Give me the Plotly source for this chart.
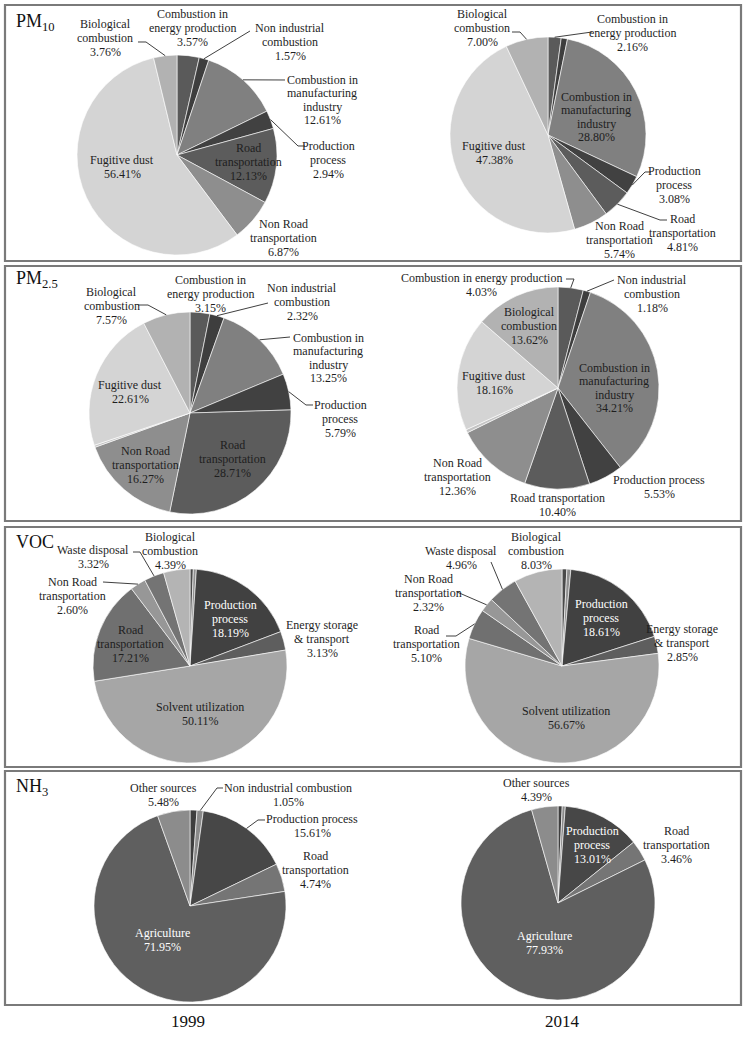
import math
import plotly.graph_objects as go

W, H = 748, 1040

# ---------------- data (percent shares, clockwise from 12 o'clock) ----------------
pm10_cats = ["Combustion in energy production", "Non industrial combustion",
             "Combustion in manufacturing industry", "Production process",
             "Road transportation", "Non Road transportation",
             "Fugitive dust", "Biological combustion"]
pm10_1999 = [3.57, 1.57, 12.61, 2.94, 12.13, 6.87, 56.41, 3.76]
pm10_2014 = [2.16, 1.03, 28.80, 3.08, 4.81, 5.74, 47.38, 7.00]

pm25_cats = ["Combustion in energy production", "Non industrial combustion",
             "Combustion in manufacturing industry", "Production process",
             "Road transportation", "Non Road transportation", "Other sources",
             "Fugitive dust", "Biological combustion"]
pm25_1999 = [3.15, 2.32, 13.25, 5.79, 28.71, 16.27, 0.33, 22.61, 7.57]
pm25_2014 = [4.03, 1.18, 34.21, 5.53, 10.40, 12.36, 0.51, 18.16, 13.62]

voc_cats = ["Combustion", "Other sources", "Production process",
            "Energy storage & transport", "Solvent utilization",
            "Road transportation", "Non Road transportation",
            "Waste disposal", "Biological combustion"]
voc_1999 = [0.55, 0.50, 18.19, 3.13, 50.11, 17.21, 2.60, 3.32, 4.39]
voc_2014 = [0.80, 0.66, 18.61, 2.85, 56.67, 5.10, 2.32, 4.96, 8.03]

nh3_cats = ["Other combustion", "Non industrial combustion", "Production process",
            "Road transportation", "Agriculture", "Other sources"]
nh3_1999 = [1.17, 1.05, 15.61, 4.74, 71.95, 5.48]
nh3_2014 = [0.70, 0.51, 13.01, 3.46, 77.93, 4.39]

years = ["1999", "2014"]
panel_titles = ["PM<sub>10</sub>", "PM<sub>2.5</sub>", "VOC", "NH<sub>3</sub>"]

# ---------------- styles ----------------
pm_colors = {
    "Combustion in energy production": "#5a5a5a",
    "Non industrial combustion": "#3e3e3e",
    "Combustion in manufacturing industry": "#808080",
    "Production process": "#414141",
    "Road transportation": "#5c5c5c",
    "Non Road transportation": "#8e8e8e",
    "Other sources": "#c4c4c4",
    "Fugitive dust": "#d4d4d4",
    "Biological combustion": "#b2b2b2",
}
voc_colors = {
    "Combustion": "#4a4a4a",
    "Other sources": "#909090",
    "Production process": "#414141",
    "Energy storage & transport": "#5e5e5e",
    "Solvent utilization": "#a6a6a6",
    "Road transportation": "#707070",
    "Non Road transportation": "#979797",
    "Waste disposal": "#747474",
    "Biological combustion": "#b4b4b4",
}
nh3_colors = {
    "Other combustion": "#3e3e3e",
    "Non industrial combustion": "#8a8a8a",
    "Production process": "#474747",
    "Road transportation": "#757575",
    "Agriculture": "#5f5f5f",
    "Other sources": "#8c8c8c",
}

FONT = "Liberation Serif"
DARK = "#1e1e1e"
WHITE = "#ffffff"
LABEL_SIZE = 12
LINE_GAP = 13.6   # pixel spacing between lines of a label

# pie placement in pixels: (cx, cy, r)
# label layout: (category, wrapped name, x, y, colour, leader points from label toward slice)
charts = [
    dict(cats=pm10_cats, vals=pm10_1999, colors=pm_colors, geo=(177, 155, 100), labels=[
        ("Biological combustion", "Biological<br>combustion", 105, 38, DARK, [(138, 42), (146, 42)]),
        ("Combustion in energy production", "Combustion in<br>energy production", 192, 28, DARK, None),
        ("Non industrial combustion", "Non industrial<br>combustion", 290, 42, DARK, [(250, 31)]),
        ("Combustion in manufacturing industry", "Combustion in<br>manufacturing<br>industry", 322, 100, DARK, [(285, 80)]),
        ("Production process", "Production<br>process", 328, 160, DARK, [(305, 146), (298, 146)]),
        ("Road transportation", "Road<br>transportation", 248, 162, DARK, None),
        ("Non Road transportation", "Non Road<br>transportation", 283, 238, DARK, None),
        ("Fugitive dust", "Fugitive dust", 122, 167, DARK, None),
    ]),
    dict(cats=pm10_cats, vals=pm10_2014, colors=pm_colors, geo=(548, 135, 98), labels=[
        ("Biological combustion", "Biological<br>combustion", 482, 28, DARK, [(512, 32), (520, 32)]),
        ("Combustion in energy production", "Combustion in<br>energy production", 632, 33, DARK, [(592, 32)]),
        ("Combustion in manufacturing industry", "Combustion in<br>manufacturing<br>industry", 596, 117, DARK, None),
        ("Production process", "Production<br>process", 674, 185, DARK, [(651, 172), (645, 172)]),
        ("Road transportation", "Road<br>transportation", 682, 233, DARK, [(667, 220), (660, 220)]),
        ("Non Road transportation", "Non Road<br>transportation", 619, 240, DARK, None),
        ("Fugitive dust", "Fugitive dust", 494, 153, DARK, None),
    ]),
    dict(cats=pm25_cats, vals=pm25_1999, colors=pm_colors, geo=(190, 413, 101), labels=[
        ("Biological combustion", "Biological<br>combustion", 112, 306, DARK, [(138, 305), (148, 305)]),
        ("Combustion in energy production", "Combustion in<br>energy production", 210, 294, DARK, None),
        ("Non industrial combustion", "Non industrial<br>combustion", 302, 302, DARK, [(268, 303)]),
        ("Combustion in manufacturing industry", "Combustion in<br>manufacturing<br>industry", 328, 358, DARK, [(290, 337)]),
        ("Production process", "Production<br>process", 340, 419, DARK, [(313, 405), (306, 405)]),
        ("Road transportation", "Road<br>transportation", 232, 459, DARK, None),
        ("Non Road transportation", "Non Road<br>transportation", 145, 465, DARK, None),
        ("Fugitive dust", "Fugitive dust", 130, 392, DARK, None),
    ]),
    dict(cats=pm25_cats, vals=pm25_2014, colors=pm_colors, geo=(558, 388, 101), labels=[
        ("Combustion in energy production", "Combustion in energy production", 481, 285, DARK, [(566, 279), (574, 279)]),
        ("Non industrial combustion", "Non industrial<br>combustion", 652, 294, DARK, [(614, 280)]),
        ("Combustion in manufacturing industry", "Combustion in<br>manufacturing<br>industry", 614, 388, DARK, None),
        ("Production process", "Production process", 659, 487, DARK, None),
        ("Road transportation", "Road transportation", 557, 505, DARK, None),
        ("Non Road transportation", "Non Road<br>transportation", 457, 477, DARK, None),
        ("Fugitive dust", "Fugitive dust", 494, 383, DARK, None),
        ("Biological combustion", "Biological<br>combustion", 529, 326, DARK, None),
    ]),
    dict(cats=voc_cats, vals=voc_1999, colors=voc_colors, geo=(190, 666, 97), labels=[
        ("Waste disposal", "Waste disposal", 93, 557, DARK, [(133, 552), (140, 552)]),
        ("Biological combustion", "Biological<br>combustion", 170, 551, DARK, None),
        ("Non Road transportation", "Non Road<br>transportation", 72, 596, DARK, [(103, 582)]),
        ("Production process", "Production<br>process", 230, 619, WHITE, None),
        ("Energy storage & transport", "Energy storage<br>&amp; transport", 322, 639, DARK, None),
        ("Road transportation", "Road<br>transportation", 130, 644, DARK, None),
        ("Solvent utilization", "Solvent utilization", 200, 714, DARK, None),
    ]),
    dict(cats=voc_cats, vals=voc_2014, colors=voc_colors, geo=(562, 666, 97), labels=[
        ("Waste disposal", "Waste disposal", 461, 558, DARK, [(491, 562)]),
        ("Biological combustion", "Biological<br>combustion", 536, 551, DARK, None),
        ("Non Road transportation", "Non Road<br>transportation", 429, 593, DARK, [(457, 592)]),
        ("Road transportation", "Road<br>transportation", 427, 644, DARK, [(446, 636), (456, 636)]),
        ("Production process", "Production<br>process", 601, 618, WHITE, None),
        ("Energy storage & transport", "Energy storage<br>&amp; transport", 682, 643, DARK, None),
        ("Solvent utilization", "Solvent utilization", 566, 718, DARK, None),
    ]),
    dict(cats=nh3_cats, vals=nh3_1999, colors=nh3_colors, geo=(190, 906, 96), labels=[
        ("Other sources", "Other sources", 163, 795, DARK, None),
        ("Non industrial combustion", "Non industrial combustion", 288, 795, DARK, [(223, 788), (217, 788)]),
        ("Production process", "Production process", 312, 826, DARK, [(265, 820), (258, 820)]),
        ("Road transportation", "Road<br>transportation", 315, 870, DARK, None),
        ("Agriculture", "Agriculture", 162, 940, WHITE, None),
    ]),
    dict(cats=nh3_cats, vals=nh3_2014, colors=nh3_colors, geo=(558, 903, 97), labels=[
        ("Other sources", "Other sources", 536, 790, DARK, None),
        ("Production process", "Production<br>process", 592, 845, WHITE, None),
        ("Road transportation", "Road<br>transportation", 676, 845, DARK, None),
        ("Agriculture", "Agriculture", 544, 943, WHITE, None),
    ]),
]

panels = [(5, 5, 741, 261), (5, 266, 741, 521), (5, 527, 741, 767), (5, 771, 741, 1005)]
title_pos = [(14, 22), (14, 280), (14, 542), (14, 787)]
year_pos = [(188, 1021), (562, 1021)]


def px(x):
    return x / W


def py(y):
    return 1 - y / H


fig = go.Figure()
shapes = []
annotations = []

for ch in charts:
    cx, cy, r = ch["geo"]
    fig.add_trace(go.Pie(
        labels=ch["cats"], values=ch["vals"], sort=False, direction="clockwise",
        rotation=0, textinfo="none", hoverinfo="label+percent",
        marker=dict(colors=[ch["colors"][c] for c in ch["cats"]],
                    line=dict(color="#ffffff", width=0.6)),
        domain=dict(x=[px(cx - r), px(cx + r)], y=[py(cy + r), py(cy - r)]),
        showlegend=False,
    ))
    total = sum(ch["vals"])
    cum = 0.0
    mids = {}
    for c, v in zip(ch["cats"], ch["vals"]):
        mids[c] = (cum + v / 2) / total
        cum += v
    for cat, name, lx, ly, col, leader in ch["labels"]:
        val = ch["vals"][ch["cats"].index(cat)]
        lines = name.split("<br>") + [f"{val:.2f}%"]
        n = len(lines)
        for i, line in enumerate(lines):
            yy = ly + (i - (n - 1) / 2) * LINE_GAP
            annotations.append(dict(
                x=px(lx), y=py(yy), xref="paper", yref="paper",
                text=line, showarrow=False,
                xanchor="center", yanchor="middle", align="center",
                font=dict(family=FONT, size=LABEL_SIZE, color=col)))
        if leader:
            ang = 2 * math.pi * mids[cat]
            ex = cx + r * math.sin(ang)
            ey = cy - r * math.cos(ang)
            pts = list(leader) + [(ex, ey)]
            path = "M " + " L ".join(f"{px(x):.5f},{py(y):.5f}" for x, y in pts)
            shapes.append(dict(type="path", xref="paper", yref="paper", path=path,
                               line=dict(color="#2a2a2a", width=0.9)))

for (x0, y0, x1, y1) in panels:
    shapes.append(dict(type="rect", xref="paper", yref="paper",
                       x0=px(x0), y0=py(y1), x1=px(x1), y1=py(y0),
                       line=dict(color="#7a7a7a", width=2.2), fillcolor="rgba(0,0,0,0)"))

for t, (tx, ty) in zip(panel_titles, title_pos):
    annotations.append(dict(x=px(tx), y=py(ty), xref="paper", yref="paper", text=t,
                            showarrow=False, xanchor="left", yanchor="middle",
                            font=dict(family=FONT, size=18, color="#111111")))

for t, (tx, ty) in zip(years, year_pos):
    annotations.append(dict(x=px(tx), y=py(ty), xref="paper", yref="paper", text=t,
                            showarrow=False, xanchor="center", yanchor="middle",
                            font=dict(family=FONT, size=17, color="#111111")))

fig.update_layout(width=W, height=H, margin=dict(l=0, r=0, t=0, b=0),
                  paper_bgcolor="white", plot_bgcolor="white",
                  shapes=shapes, annotations=annotations, showlegend=False)

# remove the browser's default 8px body margin so the figure sits at the page origin
fig.write_html("out.html",
               config={"displayModeBar": False},
               post_script="document.body.style.margin='0px';document.body.style.overflow='hidden';")
